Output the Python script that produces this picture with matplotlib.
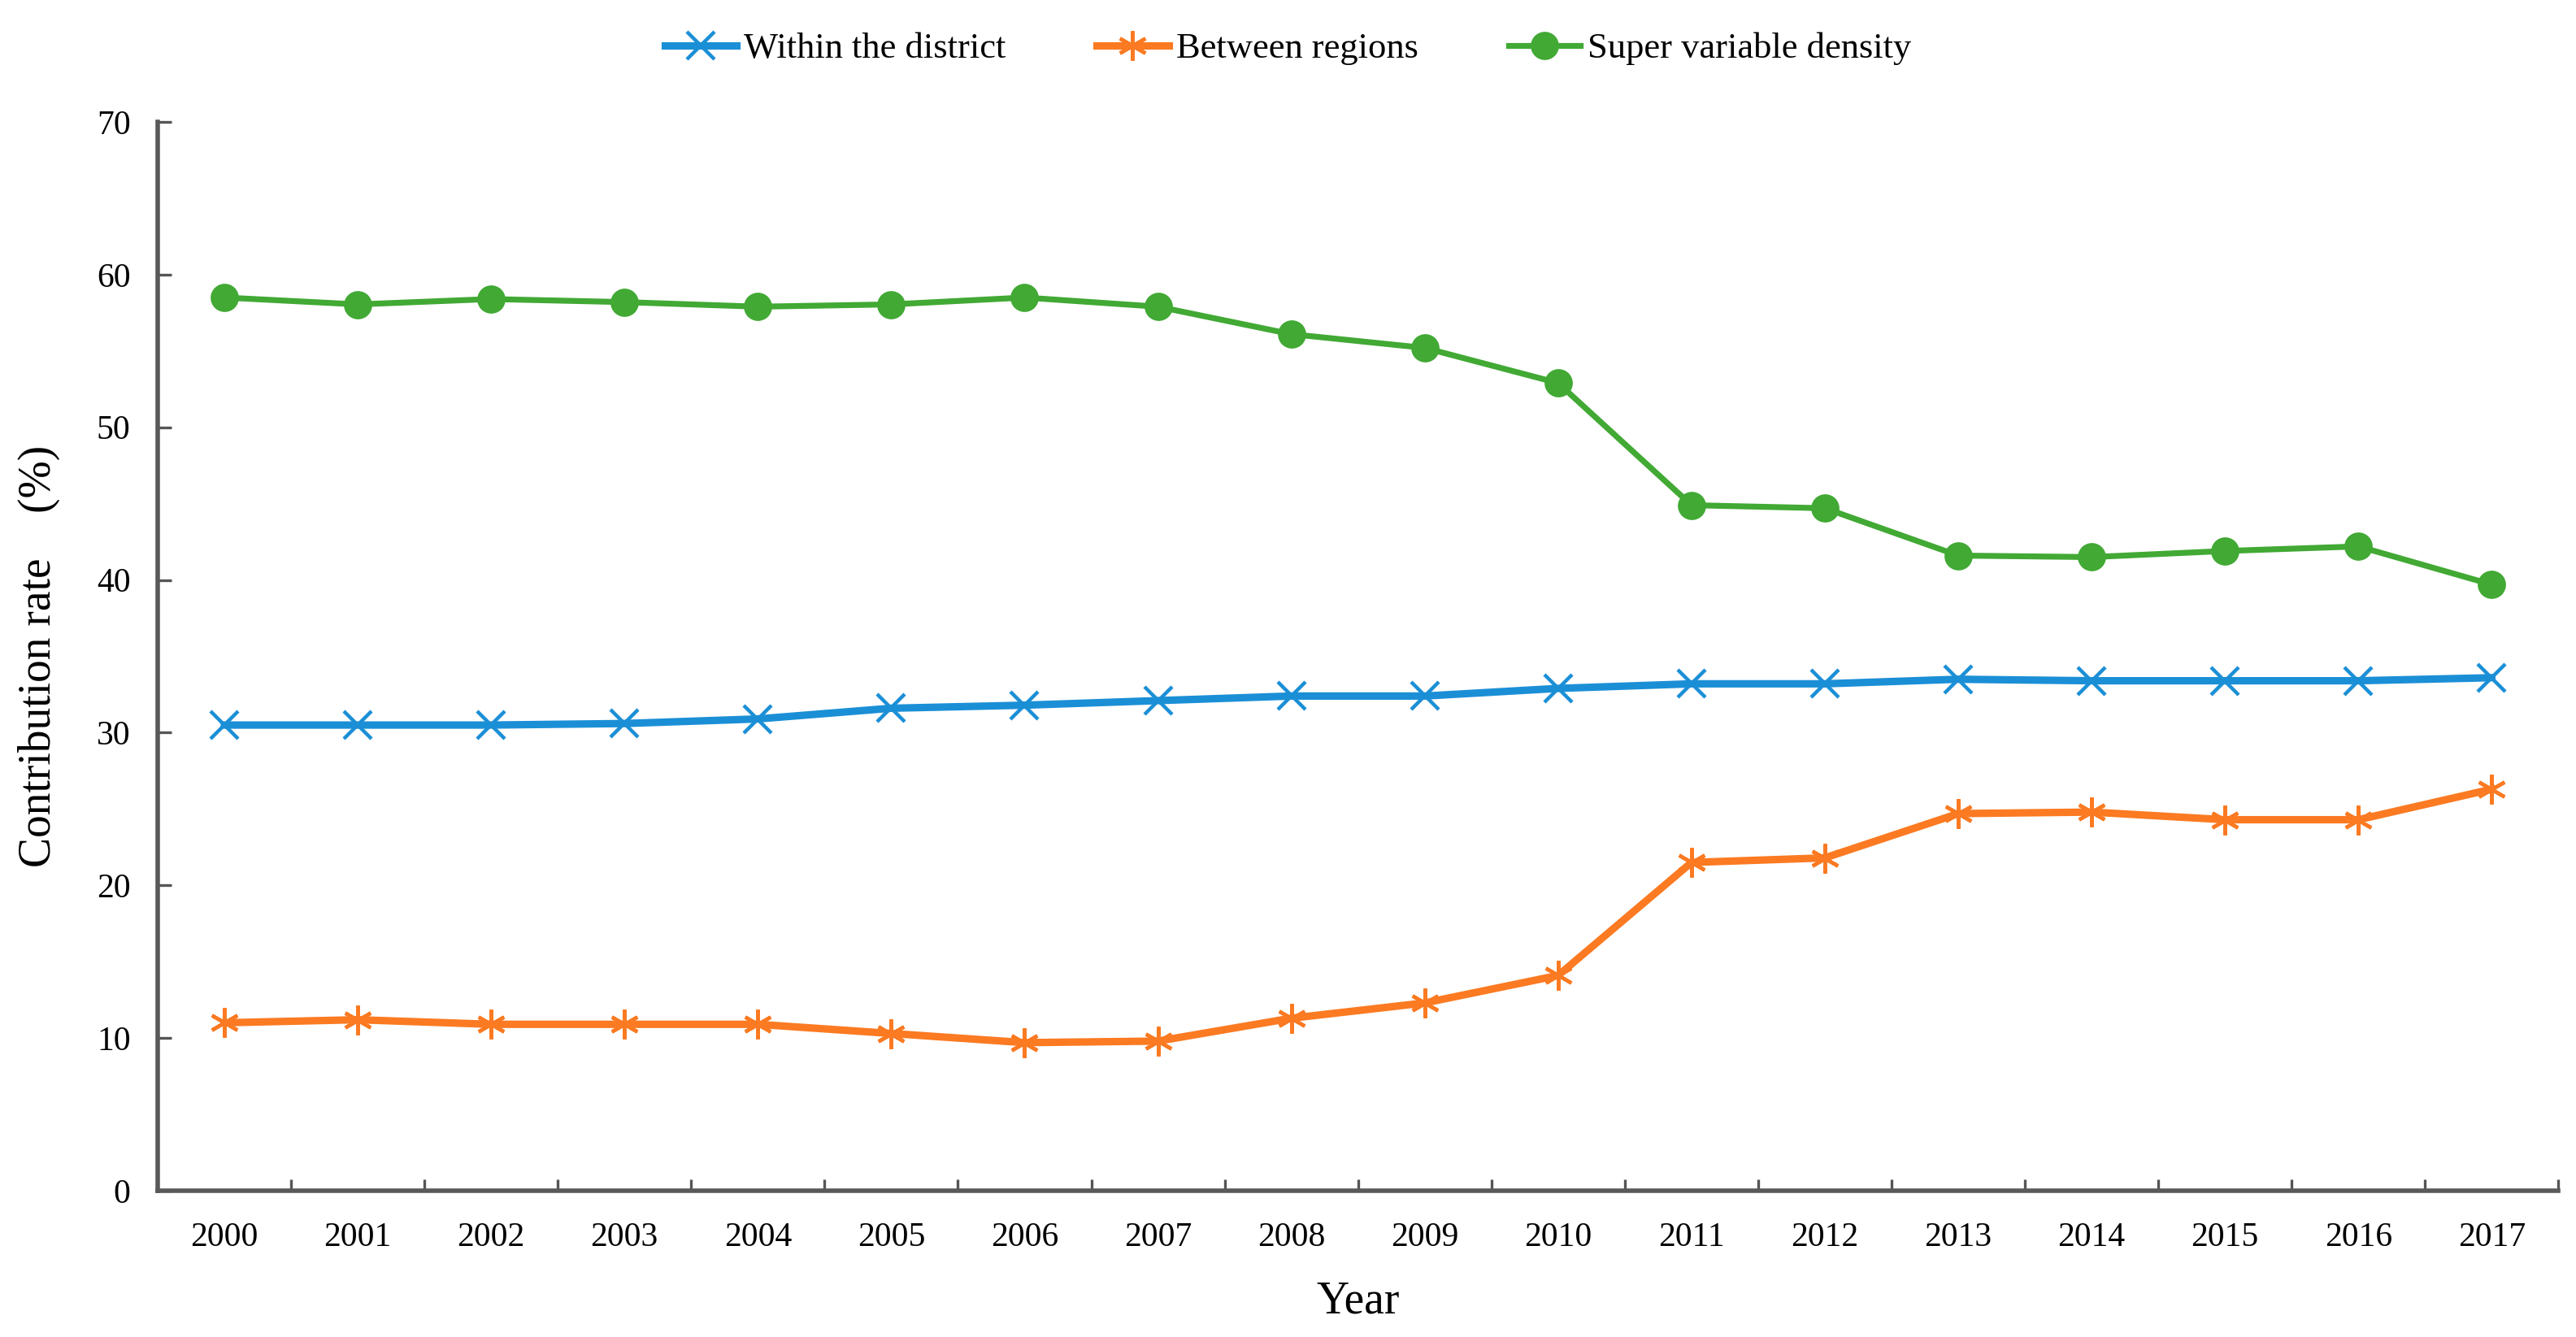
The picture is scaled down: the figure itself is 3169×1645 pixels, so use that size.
import numpy as np
import matplotlib
matplotlib.use("Agg")
import matplotlib.pyplot as plt

plt.rcParams['font.family'] = ['Liberation Serif', 'Noto Sans CJK SC', 'DejaVu Serif']

# data
years = [str(y) for y in range(2000, 2018)]
within_district = [30.5, 30.5, 30.5, 30.6, 30.9, 31.6, 31.8, 32.1, 32.4, 32.4,
                   32.9, 33.2, 33.2, 33.5, 33.4, 33.4, 33.4, 33.6]
between_regions = [11.0, 11.2, 10.9, 10.9, 10.9, 10.3, 9.7, 9.8, 11.3, 12.3,
                   14.1, 21.5, 21.8, 24.7, 24.8, 24.3, 24.3, 26.3]
super_density = [58.5, 58.05, 58.4, 58.2, 57.9, 58.05, 58.5, 57.9, 56.1, 55.2,
                 52.9, 44.9, 44.7, 41.6, 41.5, 41.9, 42.2, 39.7]
y_ticks = [0, 10, 20, 30, 40, 50, 60, 70]

fig = plt.figure(figsize=(3169 / 200, 1645 / 200), dpi=200)
ax = fig.add_axes([0.0612, 0.1094, 0.932, 0.7994])

x = np.arange(len(years))
ax.plot(x, within_district, color='#1b8fd6', lw=3.3, marker='x', ms=12, mew=1.6,
        label='Within the district')
ax.plot(x, between_regions, color='#fb7a22', lw=3.3, marker=(6, 2, 0), ms=13, mew=1.6,
        label='Between regions')
ax.plot(x, super_density, color='#41a934', lw=2.6, marker='o', ms=11.5,
        label='Super variable density')

ax.set_xlim(-0.5, len(years) - 0.5)
ax.set_ylim(0, 70)
ax.set_yticks(y_ticks)

# ticks between categories, labels centred on them
ax.set_xticks(np.arange(0.5, len(years), 1.0))
ax.set_xticklabels([])
ax.set_xticks(x, minor=True)
ax.set_xticklabels(years, minor=True, fontsize=15)
ax.tick_params(axis='x', which='major', direction='in', length=5, width=1.2, color='#555555')
ax.tick_params(axis='x', which='minor', length=0, pad=14)
ax.tick_params(axis='y', direction='in', length=6, width=1.2, color='#555555',
               labelsize=15, pad=12)

for s in ['top', 'right']:
    ax.spines[s].set_visible(False)
for s in ['left', 'bottom']:
    ax.spines[s].set_color('#595959')
    ax.spines[s].set_linewidth(2.0)

ax.set_xlabel('Year', fontsize=20, labelpad=12)
ax.set_ylabel('Contribution rate\u3000(%)', fontsize=20, labelpad=16)

fig.legend(loc='upper center', bbox_to_anchor=(0.5, 1.0), ncol=3, frameon=False,
           fontsize=16, handlelength=2.0, handletextpad=0.2, columnspacing=2.5)

plt.savefig('out.png', dpi=200)
